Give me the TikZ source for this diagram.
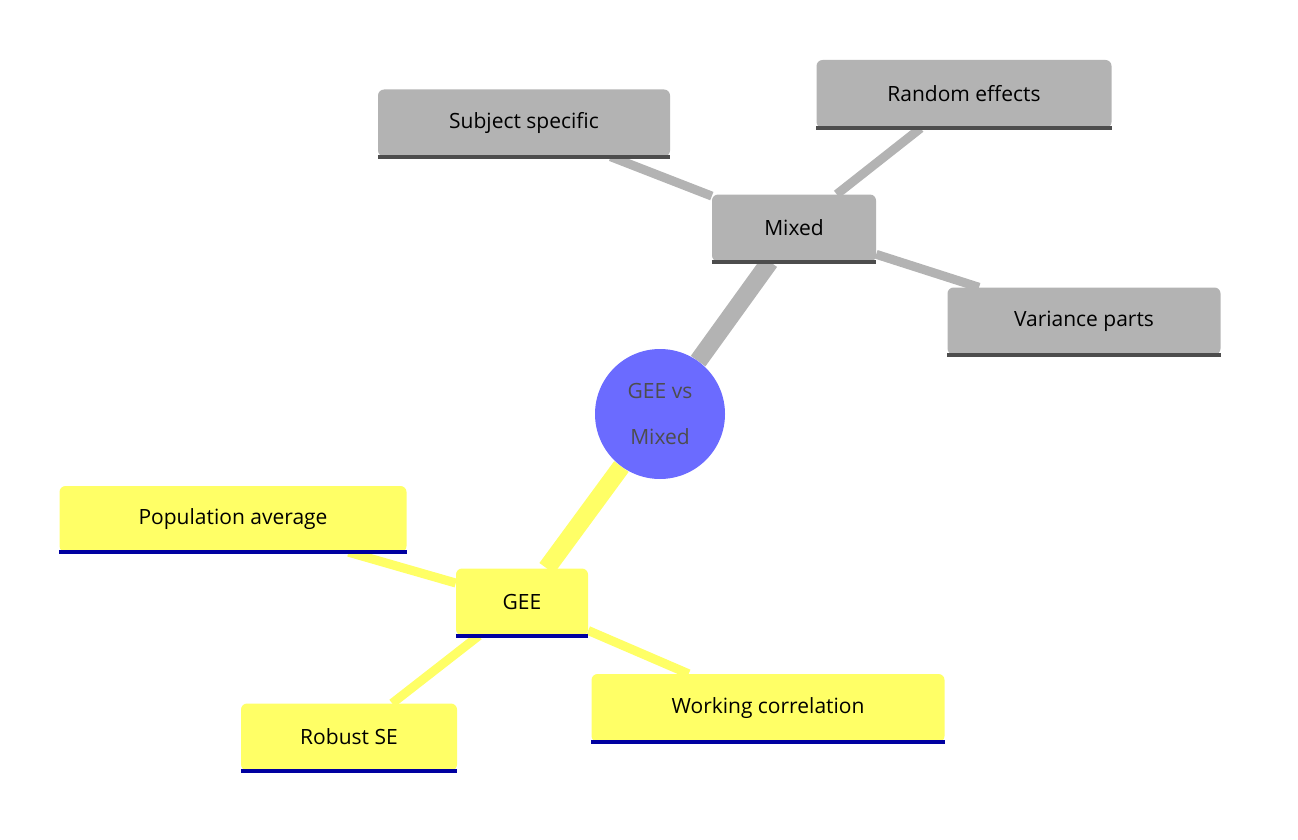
\documentclass[tikz,border=0pt]{standalone}
\usepackage{fontspec}
\setmainfont{Open Sans}
\usetikzlibrary{backgrounds}
\definecolor{gb}{HTML}{B3B3B3}
\definecolor{gl}{HTML}{4D4D4D}
\definecolor{yb}{HTML}{FFFF66}
\definecolor{yl}{HTML}{0000A0}
\definecolor{cc}{HTML}{6B6BFF}
\begin{document}
\begin{tikzpicture}[x=1pt,y=-1pt,
 box/.style={rounded corners=6pt,inner sep=0pt,font=\fontsize{21}{25}\selectfont},
 gbox/.style={box,fill=gb},
 ybox/.style={box,fill=yb},
 gline/.style={draw=gl,line width=4pt},
 yline/.style={draw=yl,line width=4pt},
 gedge/.style={draw=gb,line width=9pt},
 yedge/.style={draw=yb,line width=9pt}]
\useasboundingbox (0,0) rectangle (1298,840);
\node[gbox,minimum width=292pt,minimum height=67pt] (ss) at (524,123) {Subject specific};
\node[gbox,minimum width=295pt,minimum height=68pt] (re) at (964,94) {Random effects};
\node[gbox,minimum width=164pt,minimum height=67pt] (mx) at (794,228) {Mixed};
\node[gbox,minimum width=273pt,minimum height=67pt] (vp) at (1084,321) {Variance parts};
\node[circle,fill=cc,minimum size=130pt,inner sep=0pt,align=center,text=gl,font=\fontsize{21}{46}\selectfont] (c) at (660,414) {GEE vs\\Mixed};
\node[ybox,minimum width=132pt,minimum height=67pt] (gee) at (522,602) {GEE};
\node[ybox,minimum width=347pt,minimum height=66pt] (pa) at (233,519) {Population average};
\node[ybox,minimum width=216pt,minimum height=67pt] (rs) at (349,737) {Robust SE};
\node[ybox,minimum width=353pt,minimum height=68pt] (wc) at (768,708) {Working correlation};
\foreach \n in {ss,re,mx,vp} \draw[gline] (\n.south west) -- (\n.south east);
\foreach \n in {gee,pa,rs,wc} \draw[yline] (\n.south west) -- (\n.south east);
\begin{scope}[on background layer]
\draw[draw=gb,line width=18pt] (c) -- (mx);
\draw[gedge] (mx) -- (ss);
\draw[gedge] (mx) -- (re);
\draw[gedge] (mx) -- (vp);
\draw[draw=yb,line width=18pt] (c) -- (gee);
\draw[yedge] (gee) -- (pa);
\draw[yedge] (gee) -- (rs);
\draw[yedge] (gee) -- (wc);
\end{scope}
\end{tikzpicture}
\end{document}
